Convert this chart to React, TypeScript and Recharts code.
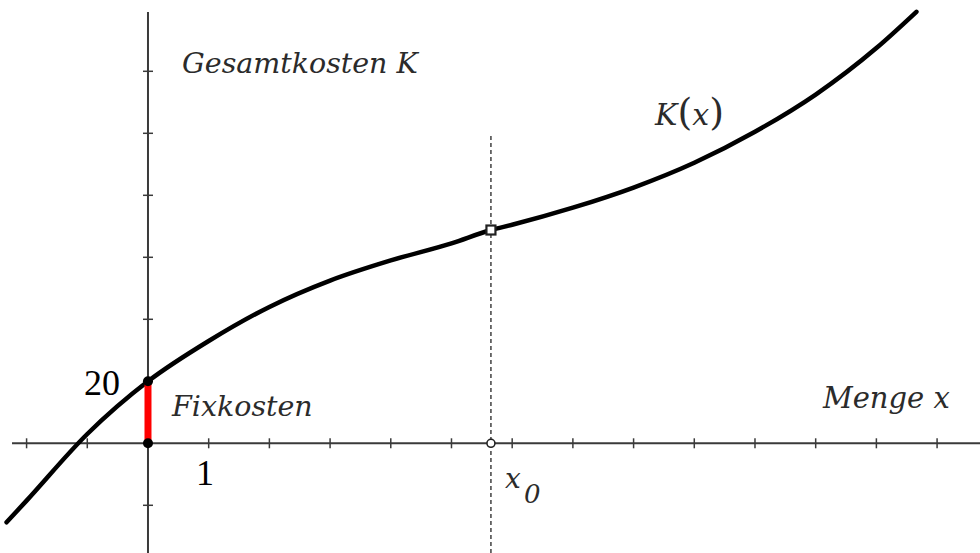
import {
  ComposedChart,
  Line,
  XAxis,
  YAxis,
  ReferenceLine,
  ReferenceDot,
} from "recharts";

const menge = [-2.33, -2, -1, 0, 1, 2, 3, 4, 5, 5.65, 6, 7, 8, 9, 10, 11, 12, 12.66];
const kosten = [-25.5, -18.5, 3, 20, 33, 44, 52.5, 59, 64.5, 68.8, 70.5, 76, 82.5, 90.5, 100.5, 112.5, 127.5, 139.2];

const xTicks = [-2, -1, 1, 2, 3, 4, 5, 6, 7, 8, 9, 10, 11, 12, 13];
const yTicks = [-20, 20, 40, 60, 80, 100, 120];

const fixkosten = 20;
const x0 = 5.65;
const kx0 = 68.8;

// sichtbarer Bereich des Koordinatensystems
const X_DOMAIN: [number, number] = [-2.438, 13.707];
const Y_DOMAIN: [number, number] = [-35.39, 143.0];
const X_AXIS_FROM = -2.24;
const Y_AXIS_TO = 139.1;
const DASH_TO = 99.5;

const data = menge.map((x, i) => ({ x, k: kosten[i] }));

const AXIS = "#3a3a3a";
const TEXT = "#2b2b2b";
const serifItalic = {
  fontFamily: "'DejaVu Serif', serif",
  fontStyle: "italic" as const,
  fill: TEXT,
};

const XTickMark = (p: any) => (
  <line x1={p.cx} x2={p.cx} y1={p.cy - 5} y2={p.cy + 5} stroke={AXIS} strokeWidth={1.5} />
);
const YTickMark = (p: any) => (
  <line x1={p.cx - 5} x2={p.cx + 5} y1={p.cy} y2={p.cy} stroke={AXIS} strokeWidth={1.5} />
);
const BlackDot = (p: any) => <circle cx={p.cx} cy={p.cy} r={5} fill="#000" />;
const OpenSquare = (p: any) => (
  <rect x={p.cx - 4.5} y={p.cy - 4.5} width={9} height={9} fill="#fff" stroke="#222" strokeWidth={2.2} />
);
const OpenCircle = (p: any) => (
  <circle cx={p.cx} cy={p.cy} r={4} fill="#fff" stroke="#222" strokeWidth={1.6} />
);

export default function App() {
  return (
    <div style={{ position: "absolute", left: 0, top: 0, width: 980, height: 553, background: "#fff" }}>
      <ComposedChart
        width={980}
        height={553}
        data={data}
        margin={{ top: 0, right: 0, bottom: 0, left: 0 }}
      >
        <XAxis type="number" dataKey="x" domain={X_DOMAIN} allowDataOverflow hide />
        <YAxis type="number" domain={Y_DOMAIN} allowDataOverflow hide />

        {/* Achsen */}
        <ReferenceLine
          segment={[{ x: X_AXIS_FROM, y: 0 }, { x: X_DOMAIN[1], y: 0 }]}
          stroke={AXIS}
          strokeWidth={2}
        />
        <ReferenceLine
          segment={[{ x: 0, y: Y_DOMAIN[0] }, { x: 0, y: Y_AXIS_TO }]}
          stroke={AXIS}
          strokeWidth={2}
        />
        {xTicks.map((t) => (
          <ReferenceDot key={"xt" + t} x={t} y={0} shape={XTickMark} />
        ))}
        {yTicks.map((t) => (
          <ReferenceDot key={"yt" + t} x={0} y={t} shape={YTickMark} />
        ))}

        {/* Wendestelle x0 */}
        <ReferenceLine
          segment={[{ x: x0, y: Y_DOMAIN[0] }, { x: x0, y: DASH_TO }]}
          stroke="#111"
          strokeWidth={1.2}
          strokeDasharray="4 3"
        />

        <Line
          type="monotone"
          dataKey="k"
          stroke="#000"
          strokeWidth={4.5}
          strokeLinecap="round"
          dot={false}
          activeDot={false}
          isAnimationActive={false}
        />

        {/* Fixkosten */}
        <ReferenceLine
          segment={[{ x: 0, y: 0 }, { x: 0, y: fixkosten }]}
          stroke="#ff0000"
          strokeWidth={7}
        />
        <ReferenceDot x={0} y={0} shape={BlackDot} />
        <ReferenceDot x={0} y={fixkosten} shape={BlackDot} />
        <ReferenceDot x={x0} y={kx0} shape={OpenSquare} />
        <ReferenceDot x={x0} y={0} shape={OpenCircle} />
      </ComposedChart>

      <svg
        width={980}
        height={553}
        style={{ position: "absolute", left: 0, top: 0, pointerEvents: "none" }}
      >
        <text x={182} y={73} fontSize={28.5} {...serifItalic}>
          Gesamtkosten K
        </text>
        <text x={655} y={125} fontSize={30} {...serifItalic}>
          K
          <tspan fontStyle="normal" fontSize={38}>(</tspan>
          x
          <tspan fontStyle="normal" fontSize={38}>)</tspan>
        </text>
        <text x={172} y={416} fontSize={28.5} {...serifItalic}>
          Fixkosten
        </text>
        <text x={823} y={408} fontSize={29} {...serifItalic}>
          Menge x
        </text>
        <text x={505} y={488} fontSize={28} {...serifItalic}>
          x
        </text>
        <text x={524} y={503} fontSize={26} {...serifItalic}>
          0
        </text>
        <text x={84} y={395} fontSize={36} fontFamily="'Liberation Serif', serif" fill="#000">
          20
        </text>
        <text x={205} y={485} fontSize={36} textAnchor="middle" fontFamily="'Liberation Serif', serif" fill="#000">
          1
        </text>
      </svg>
    </div>
  );
}
